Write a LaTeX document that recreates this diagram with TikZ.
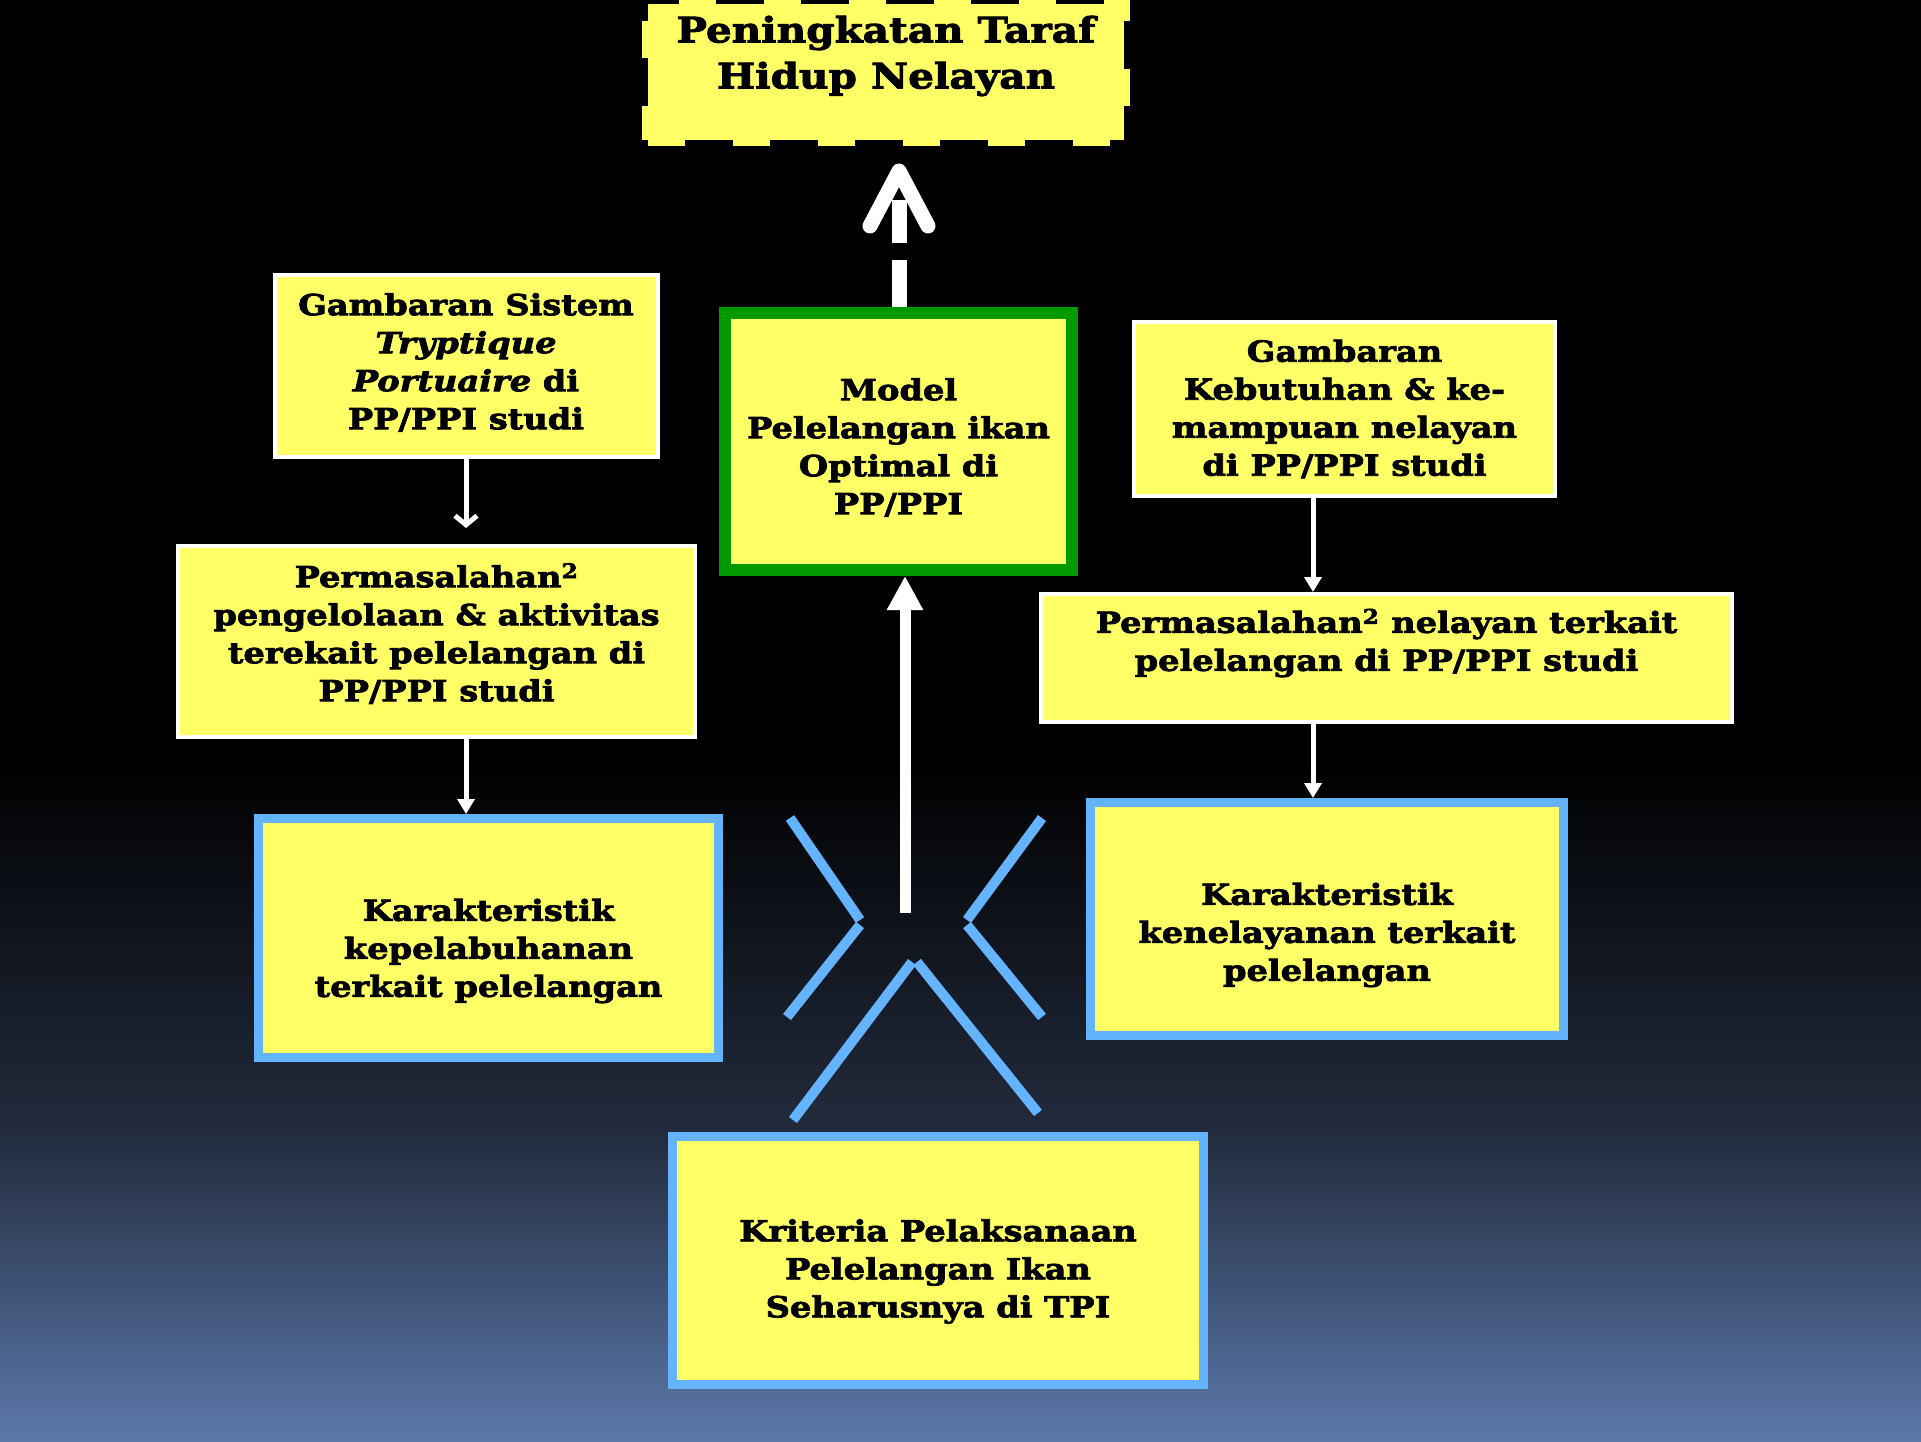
\documentclass[tikz,border=0pt]{standalone}
\usepackage{fontspec}
\setmainfont{DejaVu Serif}[FakeStretch=1.16, FakeBold=2.6]
\usetikzlibrary{arrows.meta}
\definecolor{kuning}{HTML}{FFFF66}
\definecolor{hijau}{HTML}{009900}
\definecolor{biru}{HTML}{63B3FF}
\definecolor{latengah}{HTML}{222B3D}
\definecolor{labawah}{HTML}{5C79AB}

\begin{document}
\begin{tikzpicture}[x=1pt, y=-1pt,
	teks/.style={align=center, inner sep=0pt, font=\fontsize{29}{38}\selectfont\bfseries},
	kotak/.style={fill=kuning, draw=white, line width=4pt, inner sep=0pt},
	kotakbiru/.style={kotak, draw=biru, line width=9pt},
	kotakhijau/.style={kotak, draw=hijau, line width=12pt},
	panah/.style={white, line width=5pt, -{Triangle[length=15pt,width=17pt]}},
	panahbuka/.style={white, line width=5pt, -{Straight Barb[length=9pt,width=22pt]}},
	garisbiru/.style={biru, line width=10pt}]
	% latar
	\fill[black] (0,0) rectangle (1921,760);
	\shade[top color=black, bottom color=latengah] (0,759) rectangle (1921,1130);
	\shade[top color=latengah, bottom color=labawah] (0,1129) rectangle (1921,1442);
	\useasboundingbox (0,0) rectangle (1921,1442);

	\node [fill=kuning, draw=kuning, line width=12pt, dash pattern=on 37pt off 48pt, minimum width=476pt, minimum height=136pt] (tujuan) at (886,72) {};
	\node [align=center, font=\fontsize{35}{46}\selectfont\bfseries] (tujuanteks) at (886,56) {Peningkatan Taraf\\ Hidup Nelayan};

	\node [kotakhijau, minimum width=347pt, minimum height=257pt, label={[teks, yshift=-6pt]center:{Model\\ Pelelangan ikan\\ Optimal di\\ PP/PPI}}] (model) at (898.5,441.5) {};
	\node [kotak, minimum width=383pt, minimum height=182pt, label={[teks, yshift=3pt]center:{Gambaran Sistem\\ \textit{Tryptique}\\ \textit{Portuaire} di\\ PP/PPI studi}}] (gts) at (466,365.5) {};
	\node [kotak, minimum width=517pt, minimum height=191pt, label={[teks, yshift=8pt]center:{Permasalahan\textsuperscript{2}\\ pengelolaan \& aktivitas\\ terekait pelelangan di\\ PP/PPI studi}}] (pmk) at (436.5,641.5) {};
	\node [kotakbiru, minimum width=460pt, minimum height=239pt, label={[teks, yshift=-13pt]center:{Karakteristik\\ kepelabuhanan\\ terkait pelelangan}}] (kpl) at (488.5,938) {};
	\node [kotak, minimum width=421pt, minimum height=174pt, label={[teks]center:{Gambaran\\ Kebutuhan \& ke-\\ mampuan nelayan\\ di PP/PPI studi}}] (gkb) at (1344.5,409) {};
	\node [kotak, minimum width=691pt, minimum height=128pt, label={[teks, yshift=15pt]center:{Permasalahan\textsuperscript{2} nelayan terkait\\ pelelangan di PP/PPI studi}}] (pnl) at (1386.5,658) {};
	\node [kotakbiru, minimum width=473pt, minimum height=233pt, label={[teks, yshift=-16pt]center:{Karakteristik\\ kenelayanan terkait\\ pelelangan}}] (knl) at (1327,919) {};
	\node [kotakbiru, minimum width=531pt, minimum height=248pt, label={[teks, yshift=-11pt]center:{Kriteria Pelaksanaan\\ Pelelangan Ikan\\ Seharusnya di TPI}}] (tpi) at (938,1260.5) {};

	\coordinate (kanan) at (1313,0);
	\coordinate (pusat) at (905,913);
	\coordinate (ujung) at (899,171);

	\draw [panahbuka, shorten >=16pt] (gts.south) -- (gts.south |- pmk.north);
	\draw [panah] (gts.south |- pmk.south) -- (gts.south |- kpl.north);
	\draw [panah] (kanan |- gkb.south) -- (kanan |- pnl.north);
	\draw [panah] (kanan |- pnl.south) -- (kanan |- knl.north);
	\draw [white, line width=11pt, -{Triangle[length=34pt,width=34pt]}] (pusat) -- (pusat |- model.south);

	% panah putus-putus ke atas
	\draw [white, line width=15pt, dash pattern=on 47pt off 17pt] (ujung |- model.north) -- ([yshift=-29pt]ujung);
	\draw [white, line width=15pt, line cap=round, line join=round] (ujung) ++(-29,55) -- (ujung) -- ++(29,55);

	\draw [garisbiru] (790,818) -- (860,920);
	\draw [garisbiru] (860,925) -- (787,1017);
	\draw [garisbiru] (1042,818) -- (967,920);
	\draw [garisbiru] (967,925) -- (1042,1017);
	\draw [garisbiru] (793,1120) -- (912,962);
	\draw [garisbiru] (917,962) -- (1038,1113);
\end{tikzpicture}
\end{document}
